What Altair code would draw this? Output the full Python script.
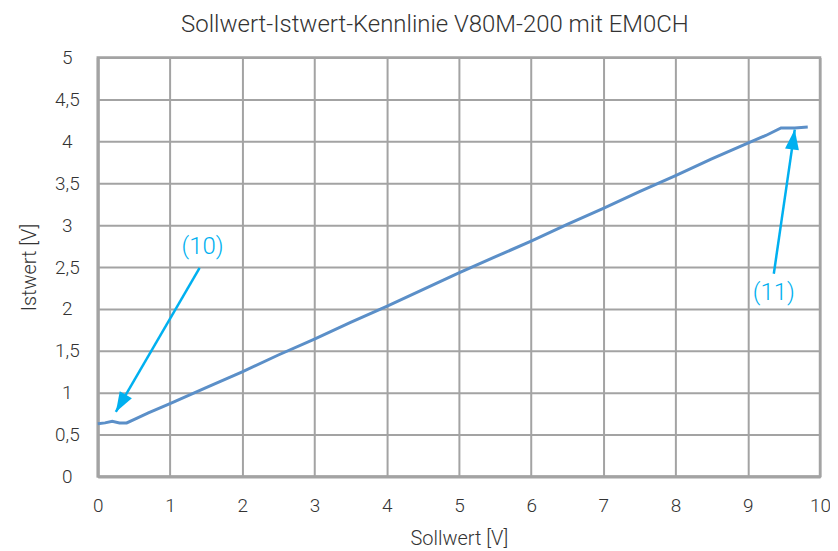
import altair as alt
import pandas as pd

sollwert = [0.0, 0.1, 0.2, 0.3, 0.4, 0.5, 0.7, 1.0, 1.5, 2.0, 2.5, 3.0, 3.5, 4.0, 4.5,
            5.0, 5.5, 6.0, 6.5, 7.0, 7.5, 8.0, 8.5, 9.0, 9.25, 9.46, 9.65, 9.83]
istwert = [0.63, 0.64, 0.66, 0.64, 0.64, 0.68, 0.76, 0.87, 1.06, 1.25, 1.45, 1.64, 1.84, 2.03, 2.23,
           2.43, 2.62, 2.81, 3.01, 3.20, 3.40, 3.59, 3.79, 3.98, 4.07, 4.16, 4.16, 4.17]

# Annotations
ann_labels = ["(10)", "(11)"]
ann_text_x = [1.45, 9.36]
ann_text_y = [2.74, 2.19]
arrow_x0 = [1.41, 9.36]
arrow_y0 = [2.49, 2.42]
arrow_x1 = [0.25, 9.65]
arrow_y1 = [0.77, 4.14]
arrow_angle = [210, 8]

x_ticks = list(range(0, 11))
y_ticks = [0, 0.5, 1, 1.5, 2, 2.5, 3, 3.5, 4, 4.5, 5]

FONT = "Roboto"
LINE_COLOR = "#5b8fc8"
ANN_COLOR = "#00b0f0"
GRID = "#a3a3a3"
TXT = "#333333"

df = pd.DataFrame({"x": sollwert, "y": istwert})
ann = pd.DataFrame({
    "label": ann_labels, "tx": ann_text_x, "ty": ann_text_y,
    "x0": arrow_x0, "y0": arrow_y0, "x1": arrow_x1, "y1": arrow_y1,
    "angle": arrow_angle,
})

xscale = alt.Scale(domain=[0, 10], nice=False, zero=False)
yscale = alt.Scale(domain=[0, 5], nice=False, zero=False)

x_axis = alt.Axis(values=x_ticks, format="d", title="Sollwert [V]", grid=True, ticks=False,
                  labelPadding=20, titlePadding=13, labelFontSize=19, titleFontSize=20,
                  labelFont=FONT, titleFont=FONT, labelFontWeight=300, titleFontWeight=300,
                  labelColor=TXT, titleColor=TXT,
                  gridColor=GRID, gridWidth=2, domainColor=GRID, domainWidth=3,
                  labelFlush=False)
y_axis = alt.Axis(values=y_ticks, title="Istwert [V]", grid=True, ticks=False,
                  labelExpr="replace(toString(datum.value), '.', ',')",
                  labelAlign="center",
                  labelPadding=31, titlePadding=15, labelFontSize=19, titleFontSize=20,
                  labelFont=FONT, titleFont=FONT, labelFontWeight=300, titleFontWeight=300,
                  labelColor=TXT, titleColor=TXT,
                  gridColor=GRID, gridWidth=2, domainColor=GRID, domainWidth=3,
                  labelFlush=False)

line = alt.Chart(df).mark_line(color=LINE_COLOR, strokeWidth=3).encode(
    x=alt.X("x:Q", scale=xscale, axis=x_axis),
    y=alt.Y("y:Q", scale=yscale, axis=y_axis),
)

arrows = alt.Chart(ann).mark_rule(color=ANN_COLOR, strokeWidth=2.5).encode(
    x="x0:Q", y="y0:Q", x2="x1:Q", y2="y1:Q",
)

heads = alt.Chart(ann).mark_point(
    shape="M0,0 L0.35,1 L-0.35,1 Z", filled=True, opacity=1,
    color=ANN_COLOR, size=1600, strokeWidth=0,
).encode(
    x="x1:Q", y="y1:Q", angle=alt.Angle("angle:Q", scale=None),
)

texts = alt.Chart(ann).mark_text(
    color=ANN_COLOR, fontSize=24, font=FONT, fontWeight=300, align="center", baseline="middle",
).encode(x="tx:Q", y="ty:Q", text="label:N")

chart = alt.layer(line, arrows, heads, texts).properties(
    width=724, height=420,
    title=alt.TitleParams("Sollwert-Istwert-Kennlinie V80M-200 mit EM0CH", fontSize=24,
                          font=FONT, fontWeight=300, color=TXT, offset=12, anchor="middle",
                          dx=-24),
    autosize=alt.AutoSizeParams(type="none"),
    padding={"left": 90, "top": 49, "right": 10, "bottom": 74},
).configure_view(stroke=GRID, strokeWidth=2.5)

chart.save("out.html", embed_options={"renderer": "svg", "actions": False})
